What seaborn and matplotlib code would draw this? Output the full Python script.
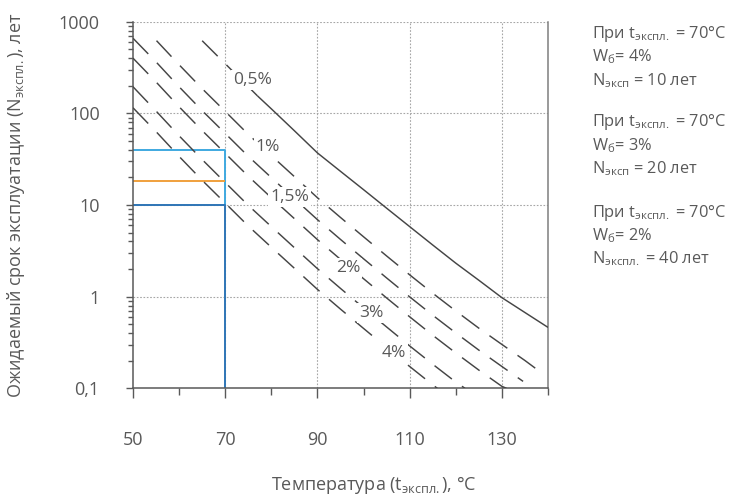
import matplotlib
matplotlib.use("Agg")
import matplotlib.pyplot as plt
import seaborn as sns
import pandas as pd
from matplotlib.ticker import FixedLocator, FixedFormatter, NullFormatter

sns.set_theme(style="white")
plt.rcParams['font.family'] = ['Open Sans', 'DejaVu Sans']
plt.rcParams['mathtext.fontset'] = 'custom'
plt.rcParams['mathtext.rm'] = 'Open Sans'
plt.rcParams['mathtext.it'] = 'Open Sans'
plt.rcParams['mathtext.bf'] = 'Open Sans'
plt.rcParams['mathtext.default'] = 'regular'

# ---------------- data ----------------
# 0.5 % curve: dashed (extrapolated) part and solid part
x_05_dash = [65, 71, 77]
y_05_dash = [620, 310, 155]
x_05 = [77, 80, 85, 90, 95, 100, 105, 110, 115, 120, 125, 130, 135, 140]
y_05 = [155, 112, 64.6, 37.0, 23.3, 14.7, 9.23, 5.81, 3.66, 2.32, 1.51, 0.975, 0.671, 0.462]

x_1 = [55.1, 60, 65, 70, 75, 80, 85, 90, 95, 100, 105, 110, 115, 120, 125, 130, 135, 137.8]
y_1 = [621, 339, 186, 105, 59.0, 34.6, 20.4, 12.0, 7.31, 4.50, 2.78, 1.73, 1.09, 0.698, 0.453, 0.301, 0.201, 0.158]

x_15 = [50, 55, 60, 65, 70, 75, 80, 85, 90, 95, 100, 105, 110, 115, 120, 125, 130, 134.6]
y_15 = [660, 364, 195, 107, 60.4, 34.0, 19.9, 11.7, 6.92, 4.21, 2.59, 1.60, 0.995, 0.627, 0.402, 0.261, 0.173, 0.119]

x_2 = [50, 55, 60, 65, 70, 75, 80, 85, 90, 95, 100, 105, 110, 115, 120, 125, 130, 131]
y_2 = [400, 220, 118, 64.9, 36.6, 20.6, 12.0, 7.10, 4.19, 2.55, 1.57, 0.968, 0.603, 0.379, 0.243, 0.158, 0.105, 0.1]

x_3 = [50, 55, 60, 65, 70, 75, 80, 85, 90, 95, 100, 105, 110, 115, 120, 122]
y_3 = [195, 106, 56.9, 31.3, 17.6, 9.91, 5.81, 3.42, 2.02, 1.23, 0.755, 0.467, 0.290, 0.183, 0.117, 0.1]

x_4 = [50, 55, 60, 65, 70, 75, 80, 85, 90, 95, 100, 105, 110, 115, 116]
y_4 = [115, 63.2, 33.9, 18.6, 10.5, 5.90, 3.46, 2.04, 1.20, 0.731, 0.450, 0.278, 0.173, 0.109, 0.1]

# reference lines at t = 70 °C
x_ref_light = [50, 70, 70]
y_ref_light = [40, 40, 10]
x_ref_orange = [50, 70]
y_ref_orange = [18.5, 18.5]
x_ref_dark = [50, 70, 70]
y_ref_dark = [10, 10, 0.1]

curve_labels = ["0,5%", "1%", "1,5%", "2%", "3%", "4%"]
label_x = [76.0, 79.3, 84.0, 96.6, 101.6, 106.6]
label_y = [231, 43, 12.2, 2.06, 0.66, 0.243]

x_ticks = [50, 70, 90, 110, 130]
x_minor = [60, 80, 100, 120, 140]
y_ticks = [0.1, 1, 10, 100, 1000]
y_tick_labels = ["0,1", "1", "10", "100", "1000"]

notes = [
    ["При t$_{экспл.}$ = 70°C", "W$_{б}$= 4%", "N$_{эксп}$ = 10 лет"],
    ["При t$_{экспл.}$ = 70°C", "W$_{б}$= 3%", "N$_{эксп}$ = 20 лет"],
    ["При t$_{экспл.}$ = 70°C", "W$_{б}$= 2%", "N$_{экспл.}$ = 40 лет"],
]

# ---------------- figure ----------------
TXT = "#595959"
LINE = "#454545"
DASH = (15, 8.5)

fig = plt.figure(figsize=(7.37, 4.97), dpi=100)
ax = fig.add_axes([133 / 737, 1 - 388.3 / 497, (548 - 133) / 737, (388.3 - 21.7) / 497])
ax.set_yscale("log")

def draw(x, y, color, lw, dashed=False, z=3):
    sns.lineplot(x=x, y=y, ax=ax, color=color, linewidth=lw, sort=False,
                 estimator=None, legend=False, zorder=z)
    ln = ax.lines[-1]
    ln.set_solid_capstyle("butt")
    if dashed:
        ln.set_dashes(DASH)
        ln.set_dash_capstyle("butt")
    return ln

draw(x_ref_light, y_ref_light, "#3fa9e0", 1.4, z=2)
draw(x_ref_orange, y_ref_orange, "#f0a03c", 1.4, z=2)
draw(x_ref_dark, y_ref_dark, "#2e75b6", 1.4, z=2)

draw(x_05_dash, y_05_dash, LINE, 1.05, dashed=True)
draw(x_05, y_05, LINE, 1.05)
for xs, ys in [(x_1, y_1), (x_15, y_15), (x_2, y_2), (x_3, y_3), (x_4, y_4)]:
    draw(xs, ys, LINE, 1.05, dashed=True)

for t, lx, ly in zip(curve_labels, label_x, label_y):
    ax.text(lx, ly, t, ha="center", va="center", fontsize=12.5, color=TXT, zorder=6,
            bbox=dict(facecolor="white", edgecolor="none", pad=1.5))

ax.set_xlim(50, 140)
ax.set_ylim(0.1, 1000)

ax.xaxis.set_major_locator(FixedLocator(x_ticks))
ax.xaxis.set_minor_locator(FixedLocator(x_minor))
ax.xaxis.set_minor_formatter(NullFormatter())
ax.yaxis.set_major_locator(FixedLocator(y_ticks))
ax.yaxis.set_major_formatter(FixedFormatter(y_tick_labels))
minor_y = [m * 10.0 ** e for e in range(-1, 3) for m in range(2, 10)]
ax.yaxis.set_minor_locator(FixedLocator(minor_y))
ax.yaxis.set_minor_formatter(NullFormatter())

ax.grid(False)
for v in [70, 90, 110, 130]:
    ax.axvline(v, color="#a6a6a6", lw=0.8, ls=(0, (1.5, 1.5)), zorder=1)
for v in [1, 10, 100, 1000]:
    ax.axhline(v, color="#a6a6a6", lw=0.8, ls=(0, (1.5, 1.5)), zorder=1)

for s in ["left", "bottom"]:
    ax.spines[s].set_color("#595959")
    ax.spines[s].set_linewidth(1.1)
ax.spines["right"].set_color("#7f7f7f")
ax.spines["right"].set_linewidth(1.1)
ax.spines["top"].set_visible(False)

ax.tick_params(axis="x", which="major", direction="out", length=7, width=1, color="#595959",
               labelsize=13, labelcolor=TXT, pad=24, bottom=True)
ax.tick_params(axis="x", which="minor", direction="out", length=5, width=1, color="#595959", bottom=True)
ax.tick_params(axis="y", which="major", direction="out", length=5, width=1, color="#595959",
               labelsize=13, labelcolor=TXT, pad=19, left=True)
ax.tick_params(axis="y", which="minor", direction="out", length=3.5, width=1, color="#595959", left=True)

fig.text(16 / 737, 1 - 205 / 497, "Ожидаемый срок эксплуатации (N$_{экспл.}$), лет",
         rotation=90, ha="center", va="center", fontsize=13, color=TXT)
fig.text(374 / 737, 1 - 485 / 497, "Температура (t$_{экспл.}$), °C",
         ha="center", va="center", fontsize=13, color=TXT)

baselines = [[38.3, 61.7, 85], [126, 150, 173.3], [216.7, 240, 263.3]]
for block, bl in zip(notes, baselines):
    for line, b in zip(block, bl):
        fig.text(592 / 737, 1 - b / 497, line, ha="left", va="baseline",
                 fontsize=11.8, color=TXT)

fig.savefig("out.png", dpi=100)
